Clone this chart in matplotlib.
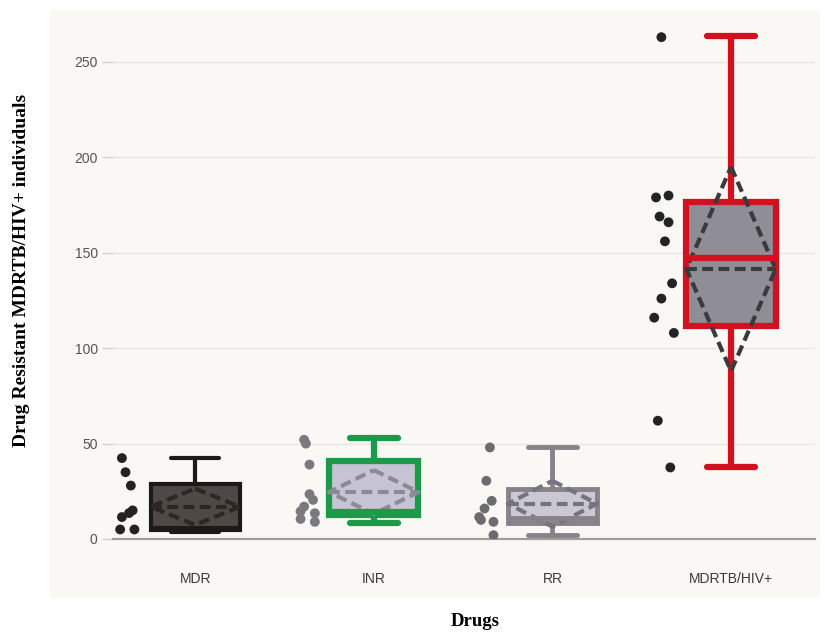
import matplotlib.pyplot as plt
from matplotlib.patches import Rectangle

# categories and the values
drugs = ["MDR", "INR", "RR", "MDRTB/HIV+"]

mdr_pts = [42.4, 35, 28, 15, 13.6, 11.5, 5, 5]
inr_pts = [52, 50, 39, 23.5, 20.5, 17, 14.5, 13.5, 10.5, 9]
rr_pts = [48, 30.5, 20, 16, 11.5, 10, 9, 2]
hiv_pts = [263, 179, 180, 169, 166, 156, 134, 126, 116, 108, 62, 37.5]

# box statistics (plotly style box with mean +/- sd diamond)
whislo = [3.7, 8.4, 2.0, 37.7]
q1 = [4.6, 12.8, 8.6, 111.6]
median = [6.0, 14.2, 11.2, 147.5]
q3 = [29.0, 41.0, 26.2, 176.5]
whishi = [42.4, 53.0, 48.0, 263.5]
mean = [16.9, 24.6, 18.5, 141.5]
sd = [9.5, 11.5, 12.0, 53.5]

# look
edge_colors = ["#1c1a19", "#1b9a4a", "#858388", "#d3101f"]
fill_colors = ["#4f4945", "#c6c4d4", "#c9c8d3", "#8f8d95"]
dash_colors = ["#2b2725", "#8c8b95", "#75747e", "#3a3a3c"]
point_colors = ["#222222", "#7a797d", "#6c6b6f", "#232323"]
line_widths = [3.0, 4.5, 3.5, 4.5]
jitter = [
    [-0.41, -0.39, -0.36, -0.35, -0.37, -0.41, -0.42, -0.34],
    [-0.39, -0.38, -0.36, -0.36, -0.34, -0.39, -0.41, -0.33, -0.41, -0.33],
    [-0.35, -0.37, -0.34, -0.38, -0.41, -0.40, -0.33, -0.33],
    [-0.39, -0.42, -0.35, -0.40, -0.35, -0.37, -0.33, -0.39, -0.43, -0.32, -0.41, -0.34],
]
all_pts = [mdr_pts, inr_pts, rr_pts, hiv_pts]

fig = plt.figure(figsize=(8.25, 6.39), dpi=100)
fig.patch.set_facecolor("white")
# cream paper area behind the chart
bg = Rectangle((50 / 825, 41 / 639), 770 / 825, 588 / 639,
               transform=fig.transFigure, facecolor="#faf8f4",
               edgecolor="none", zorder=-10)
fig.add_artist(bg)

ax = fig.add_axes([113 / 825, 1 - 539 / 639, 702 / 825, 519 / 639])
ax.set_facecolor("none")
ax.set_zorder(1)

stats = []
for i in range(len(drugs)):
    stats.append(dict(med=median[i], q1=q1[i], q3=q3[i], whislo=whislo[i],
                      whishi=whishi[i], fliers=[], label=drugs[i]))

bp = ax.bxp(stats, positions=range(len(drugs)), widths=0.5, capwidths=0.27,
            patch_artist=True, showfliers=False)

for i in range(len(drugs)):
    ec, lw = edge_colors[i], line_widths[i]
    box = bp["boxes"][i]
    box.set_facecolor(fill_colors[i])
    box.set_edgecolor(ec)
    box.set_linewidth(lw)
    box.set_zorder(3)
    bp["medians"][i].set(color=ec, linewidth=lw, zorder=5)
    for art in bp["whiskers"][2 * i:2 * i + 2] + bp["caps"][2 * i:2 * i + 2]:
        art.set(color=ec, linewidth=lw, solid_capstyle="round", zorder=3)

    # mean line and sd diamond
    m, s = mean[i], sd[i]
    ax.plot([i - 0.25, i + 0.25], [m, m], color=dash_colors[i], lw=3.0,
            ls=(0, (2.6, 1.3)), zorder=4)
    ax.plot([i, i + 0.25, i, i - 0.25, i], [m + s, m, m - s, m, m + s],
            color=dash_colors[i], lw=3.0, ls=(0, (2.6, 1.3)), zorder=4)

    # all points shown beside the box
    xs = [i + j for j in jitter[i]]
    ax.scatter(xs, all_pts[i], s=50, color=point_colors[i], zorder=6,
               edgecolors="none")

ax.set_xlim(-0.46, 3.47)
ax.set_ylim(0, 272)
ax.set_yticks([0, 50, 100, 150, 200, 250])
ax.set_xticks(range(len(drugs)))
ax.set_xticklabels(drugs)
ax.grid(axis="y", color="#e9e7e3", linewidth=1.0, zorder=0)
ax.set_axisbelow(True)
for side in ["top", "right", "left"]:
    ax.spines[side].set_visible(False)
ax.spines["bottom"].set_color("#a09e9b")
ax.spines["bottom"].set_linewidth(1.6)
ax.tick_params(axis="x", length=0, pad=24, labelsize=10, labelcolor="#3a3a3a")
ax.tick_params(axis="y", length=8, width=1, color="#d5d3cf", pad=3,
               labelsize=10, labelcolor="#555555")
for lab in ax.get_xticklabels() + ax.get_yticklabels():
    lab.set_family("Liberation Sans")

fig.text(22 / 825, 1 - 270 / 639, "Drug Resistant MDRTB/HIV+ individuals",
         rotation=90, ha="center", va="center", fontsize=14, fontweight="bold",
         family="Liberation Serif")
fig.text(475 / 825, 1 - 622 / 639, "Drugs", ha="center", va="center",
         fontsize=13.5, fontweight="bold", family="Liberation Serif")

fig.savefig("out.png", dpi=100)
